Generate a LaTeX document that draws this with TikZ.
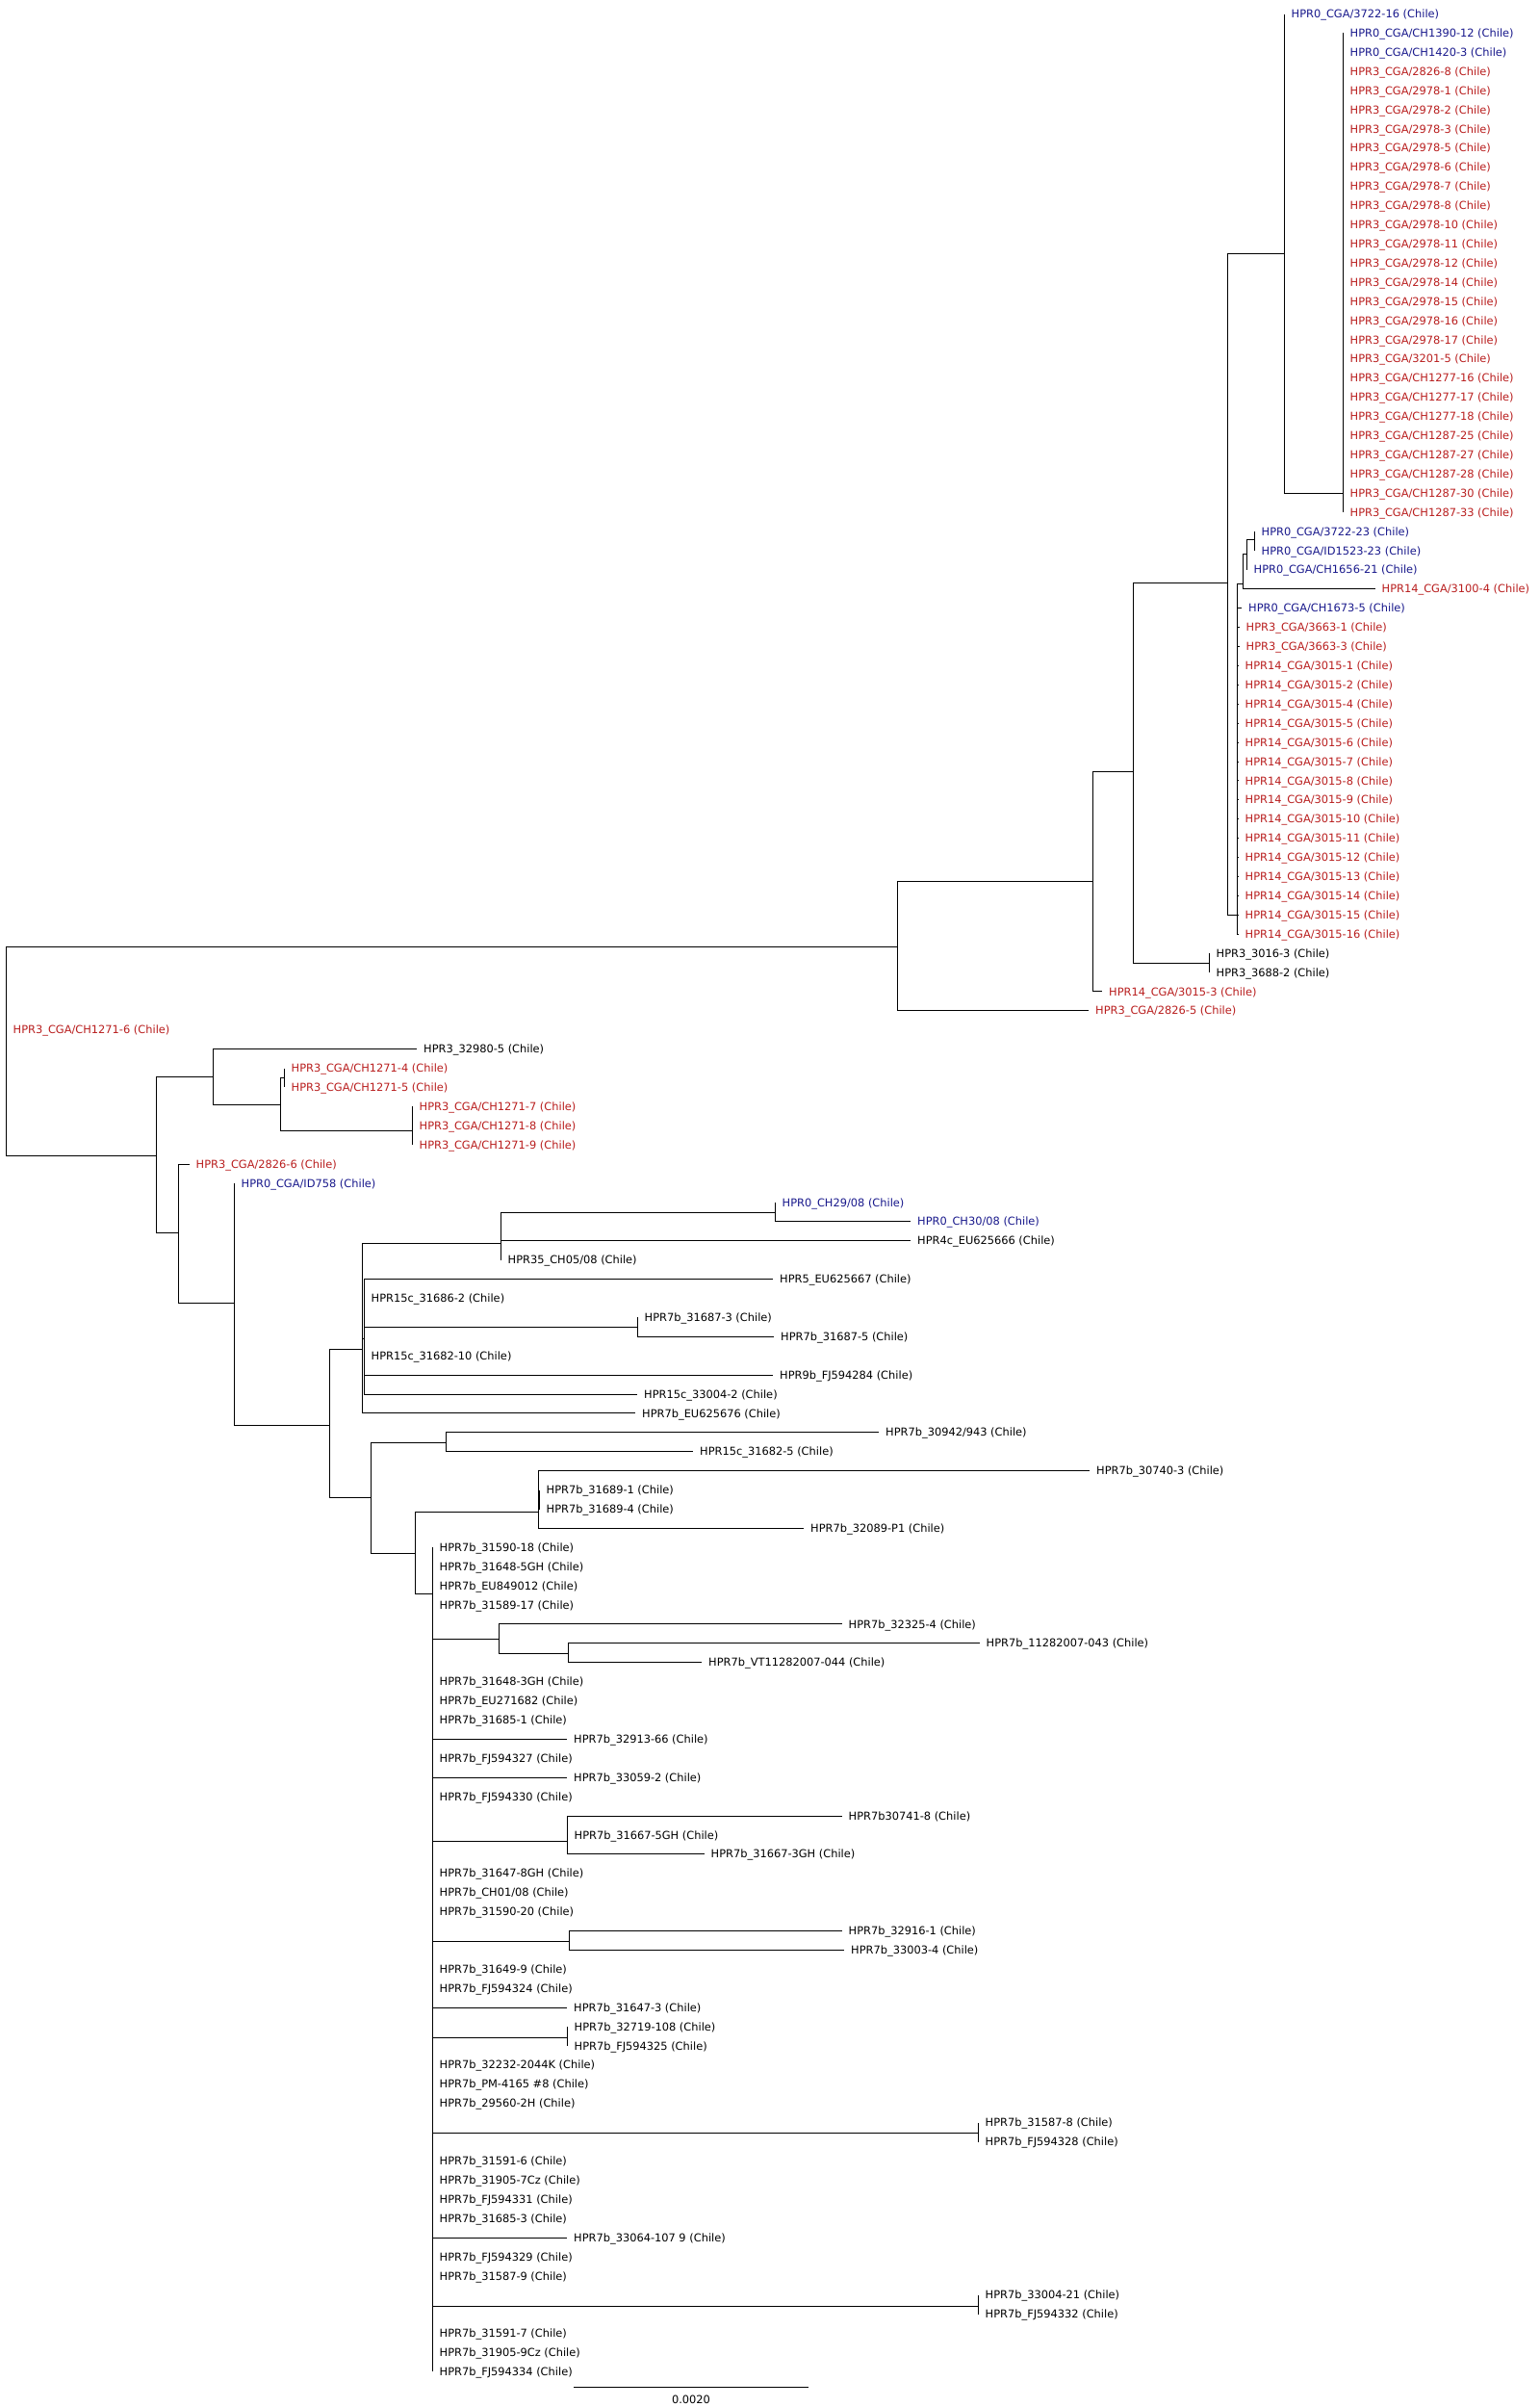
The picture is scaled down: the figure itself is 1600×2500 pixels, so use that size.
\documentclass[tikz,border=0pt]{standalone}
\usepackage{fontspec}
\setmainfont{DejaVu Sans}
\definecolor{hblue}{RGB}{25,25,140}
\definecolor{hred}{RGB}{185,30,30}
\tikzset{
  br/.style={line width=1pt, black},
  lab/.style={inner sep=0pt, anchor=base west, font=\fontsize{11.4}{13}\selectfont},
  rd/.style={text=hred}, bl/.style={text=hblue}, bk/.style={text=black}
}
% #1 row, #2 parent, #3 tip x, #4 colour style, #5 text
\newcommand\lf[5]{%
  \coordinate (l#1) at (#3,{14.5+19.91*(#1-1)});
  \draw[br] (#2) |- (l#1);
  \node[lab,#4] (t#1) at ([xshift=7pt,yshift=-4.1pt]l#1) {#5};}
\begin{document}
\begin{tikzpicture}[x=1pt,y=-1pt]
\fill[white] (0,0) rectangle (1600,2500);
\useasboundingbox (0,0) rectangle (1600,2500);
% ---------- internal nodes
\coordinate (R)  at (6.5,1070);
\coordinate (N1) at (932.5,983.5);
\coordinate (N2) at (1135.5,915.5);
\coordinate (N3) at (1177.5,801.5);
\coordinate (N4) at (1275.5,605.5);
\coordinate (N5) at (1334.5,263.5);
\coordinate (N7) at (1395.5,512.5);
\coordinate (N6) at (1285.5,950.5);
\coordinate (S1) at (1291.5,606.5);
\coordinate (S2) at (1295.5,575.5);
\coordinate (S3) at (1303.5,560.5);
\coordinate (C1) at (1256.5,1000.5);
\coordinate (M1) at (162.5,1200.5);
\coordinate (M2) at (221.5,1118.5);
\coordinate (M3) at (291.5,1147.5);
\coordinate (M4) at (295.5,1119.5);
\coordinate (M5) at (428.5,1174.5);
\coordinate (M6) at (185.5,1280.5);
\coordinate (M7) at (243.5,1353.5);
\coordinate (M8) at (342.5,1480.5);
\coordinate (M9) at (376.5,1401.5);
\coordinate (M9b) at (378.5,1390.5);
\coordinate (M11) at (520.5,1291.5);
\coordinate (M12) at (662.5,1378.5);
\coordinate (M13) at (805.5,1259.5);
\coordinate (M10) at (385.5,1555.5);
\coordinate (M14) at (463.5,1498.5);
\coordinate (M15) at (431.5,1613.5);
\coordinate (M16) at (559.5,1570.5);
\coordinate (M16b) at (560.5,1557.5);
\coordinate (P)  at (449.5,1655.5);
\coordinate (M17) at (518.5,1702.5);
\coordinate (M18) at (590.5,1717.5);
\coordinate (M19) at (589.5,1912.5);
\coordinate (M20) at (591.5,2016.5);
\coordinate (M21) at (589.5,2116.5);
\coordinate (M22) at (1016.5,2215.5);
\coordinate (M23) at (1016.5,2395.5);
% ---------- internal edges
\draw[br] (R) |- (N1);
\draw[br] (R) |- (M1);
\draw[br] (N1) |- (N2);
\draw[br] (N2) |- (N3);
\draw[br] (N3) |- (N4);
\draw[br] (N3) |- (C1);
\draw[br] (N4) |- (N5);
\draw[br] (N4) |- (N6);
\draw[br] (N5) |- (N7);
\draw[br] (N6) |- (S1);
\draw[br] (S1) |- (S2);
\draw[br] (S2) |- (S3);
\draw[br] (M1) |- (M2);
\draw[br] (M1) |- (M6);
\draw[br] (M2) |- (M3);
\draw[br] (M3) |- (M4);
\draw[br] (M3) |- (M5);
\draw[br] (M6) |- (M7);
\draw[br] (M7) |- (M8);
\draw[br] (M8) |- (M9);
\draw[br] (M8) |- (M10);
\draw[br] (M9) |- (M11);
\draw[br] (M9) |- (M9b);
\draw[br] (M9b) |- (M12);
\draw[br] (M11) |- (M13);
\draw[br] (M10) |- (M14);
\draw[br] (M10) |- (M15);
\draw[br] (M15) |- (M16);
\draw[br] (M15) |- (P);
\draw[br] (M16) |- (M16b);
\draw[br] (P) |- (M17);
\draw[br] (M17) |- (M18);
\draw[br] (P) |- (M19);
\draw[br] (P) |- (M20);
\draw[br] (P) |- (M21);
\draw[br] (P) |- (M22);
\draw[br] (P) |- (M23);
% ---------- leaves: upper clade
\lf{1}{N5}{1334.5}{bl}{HPR0\_CGA/3722-16 (Chile)}
\lf{2}{N7}{1395.5}{bl}{HPR0\_CGA/CH1390-12 (Chile)}
\lf{3}{N7}{1395.5}{bl}{HPR0\_CGA/CH1420-3 (Chile)}
\foreach \r/\s in {4/2826-8,5/2978-1,6/2978-2,7/2978-3,8/2978-5,9/2978-6,10/2978-7,11/2978-8,
  12/2978-10,13/2978-11,14/2978-12,15/2978-14,16/2978-15,17/2978-16,18/2978-17,19/3201-5,
  20/CH1277-16,21/CH1277-17,22/CH1277-18,23/CH1287-25,24/CH1287-27,25/CH1287-28,26/CH1287-30,27/CH1287-33}
  {\lf{\r}{N7}{1395.5}{rd}{HPR3\_CGA/\s{} (Chile)}}
\lf{28}{S3}{1303.5}{bl}{HPR0\_CGA/3722-23 (Chile)}
\lf{29}{S3}{1303.5}{bl}{HPR0\_CGA/ID1523-23 (Chile)}
\lf{30}{S2}{1295.5}{bl}{HPR0\_CGA/CH1656-21 (Chile)}
\lf{31}{S1}{1428.5}{rd}{HPR14\_CGA/3100-4 (Chile)}
\lf{32}{N6}{1290}{bl}{HPR0\_CGA/CH1673-5 (Chile)}
\lf{33}{N6}{1287.5}{rd}{HPR3\_CGA/3663-1 (Chile)}
\lf{34}{N6}{1287.5}{rd}{HPR3\_CGA/3663-3 (Chile)}
\foreach \r/\s in {35/1,36/2,37/4,38/5,39/6,40/7,41/8,42/9,43/10,44/11,45/12,46/13,47/14,48/15,49/16}
  {\lf{\r}{N6}{1286.5}{rd}{HPR14\_CGA/3015-\s{} (Chile)}}
\lf{50}{C1}{1256.5}{bk}{HPR3\_3016-3 (Chile)}
\lf{51}{C1}{1256.5}{bk}{HPR3\_3688-2 (Chile)}
\lf{52}{N2}{1145}{rd}{HPR14\_CGA/3015-3 (Chile)}
\lf{53}{N1}{1131}{rd}{HPR3\_CGA/2826-5 (Chile)}
\lf{54}{R}{6.5}{rd}{HPR3\_CGA/CH1271-6 (Chile)}
% ---------- lower clade
\lf{55}{M2}{433}{bk}{HPR3\_32980-5 (Chile)}
\lf{56}{M4}{295.5}{rd}{HPR3\_CGA/CH1271-4 (Chile)}
\lf{57}{M4}{295.5}{rd}{HPR3\_CGA/CH1271-5 (Chile)}
\lf{58}{M5}{428.5}{rd}{HPR3\_CGA/CH1271-7 (Chile)}
\lf{59}{M5}{428.5}{rd}{HPR3\_CGA/CH1271-8 (Chile)}
\lf{60}{M5}{428.5}{rd}{HPR3\_CGA/CH1271-9 (Chile)}
\lf{61}{M6}{196.5}{rd}{HPR3\_CGA/2826-6 (Chile)}
\lf{62}{M7}{243.5}{bl}{HPR0\_CGA/ID758 (Chile)}
\lf{63}{M13}{805.5}{bl}{HPR0\_CH29/08 (Chile)}
\lf{64}{M13}{946}{bl}{HPR0\_CH30/08 (Chile)}
\lf{65}{M11}{946}{bk}{HPR4c\_EU625666 (Chile)}
\lf{66}{M11}{520.5}{bk}{HPR35\_CH05/08 (Chile)}
\lf{67}{M9b}{803}{bk}{HPR5\_EU625667 (Chile)}
\lf{68}{M9b}{378.5}{bk}{HPR15c\_31686-2 (Chile)}
\lf{69}{M12}{662.5}{bk}{HPR7b\_31687-3 (Chile)}
\lf{70}{M12}{804}{bk}{HPR7b\_31687-5 (Chile)}
\lf{71}{M9b}{378.5}{bk}{HPR15c\_31682-10 (Chile)}
\lf{72}{M9b}{803}{bk}{HPR9b\_FJ594284 (Chile)}
\lf{73}{M9b}{662}{bk}{HPR15c\_33004-2 (Chile)}
\lf{74}{M9}{660}{bk}{HPR7b\_EU625676 (Chile)}
\lf{75}{M14}{913}{bk}{HPR7b\_30942/943 (Chile)}
\lf{76}{M14}{720}{bk}{HPR15c\_31682-5 (Chile)}
\lf{77}{M16}{1132}{bk}{HPR7b\_30740-3 (Chile)}
\lf{78}{M16b}{560.5}{bk}{HPR7b\_31689-1 (Chile)}
\lf{79}{M16b}{560.5}{bk}{HPR7b\_31689-4 (Chile)}
\lf{80}{M16}{835}{bk}{HPR7b\_32089-P1 (Chile)}
\lf{81}{P}{449.5}{bk}{HPR7b\_31590-18 (Chile)}
\lf{82}{P}{449.5}{bk}{HPR7b\_31648-5GH (Chile)}
\lf{83}{P}{449.5}{bk}{HPR7b\_EU849012 (Chile)}
\lf{84}{P}{449.5}{bk}{HPR7b\_31589-17 (Chile)}
\lf{85}{M17}{874.5}{bk}{HPR7b\_32325-4 (Chile)}
\lf{86}{M18}{1017.5}{bk}{HPR7b\_11282007-043 (Chile)}
\lf{87}{M18}{729}{bk}{HPR7b\_VT11282007-044 (Chile)}
\lf{88}{P}{449.5}{bk}{HPR7b\_31648-3GH (Chile)}
\lf{89}{P}{449.5}{bk}{HPR7b\_EU271682 (Chile)}
\lf{90}{P}{449.5}{bk}{HPR7b\_31685-1 (Chile)}
\lf{91}{P}{589}{bk}{HPR7b\_32913-66 (Chile)}
\lf{92}{P}{449.5}{bk}{HPR7b\_FJ594327 (Chile)}
\lf{93}{P}{589}{bk}{HPR7b\_33059-2 (Chile)}
\lf{94}{P}{449.5}{bk}{HPR7b\_FJ594330 (Chile)}
\lf{95}{M19}{874.5}{bk}{HPR7b30741-8 (Chile)}
\lf{96}{M19}{589.5}{bk}{HPR7b\_31667-5GH (Chile)}
\lf{97}{M19}{731.5}{bk}{HPR7b\_31667-3GH (Chile)}
\lf{98}{P}{449.5}{bk}{HPR7b\_31647-8GH (Chile)}
\lf{99}{P}{449.5}{bk}{HPR7b\_CH01/08 (Chile)}
\lf{100}{P}{449.5}{bk}{HPR7b\_31590-20 (Chile)}
\lf{101}{M20}{874.5}{bk}{HPR7b\_32916-1 (Chile)}
\lf{102}{M20}{877}{bk}{HPR7b\_33003-4 (Chile)}
\lf{103}{P}{449.5}{bk}{HPR7b\_31649-9 (Chile)}
\lf{104}{P}{449.5}{bk}{HPR7b\_FJ594324 (Chile)}
\lf{105}{P}{589}{bk}{HPR7b\_31647-3 (Chile)}
\lf{106}{M21}{589.5}{bk}{HPR7b\_32719-108 (Chile)}
\lf{107}{M21}{589.5}{bk}{HPR7b\_FJ594325 (Chile)}
\lf{108}{P}{449.5}{bk}{HPR7b\_32232-2044K (Chile)}
\lf{109}{P}{449.5}{bk}{HPR7b\_PM-4165 \#8 (Chile)}
\lf{110}{P}{449.5}{bk}{HPR7b\_29560-2H (Chile)}
\lf{111}{M22}{1016.5}{bk}{HPR7b\_31587-8 (Chile)}
\lf{112}{M22}{1016.5}{bk}{HPR7b\_FJ594328 (Chile)}
\lf{113}{P}{449.5}{bk}{HPR7b\_31591-6 (Chile)}
\lf{114}{P}{449.5}{bk}{HPR7b\_31905-7Cz (Chile)}
\lf{115}{P}{449.5}{bk}{HPR7b\_FJ594331 (Chile)}
\lf{116}{P}{449.5}{bk}{HPR7b\_31685-3 (Chile)}
\lf{117}{P}{589}{bk}{HPR7b\_33064-107 9 (Chile)}
\lf{118}{P}{449.5}{bk}{HPR7b\_FJ594329 (Chile)}
\lf{119}{P}{449.5}{bk}{HPR7b\_31587-9 (Chile)}
\lf{120}{M23}{1016.5}{bk}{HPR7b\_33004-21 (Chile)}
\lf{121}{M23}{1016.5}{bk}{HPR7b\_FJ594332 (Chile)}
\lf{122}{P}{449.5}{bk}{HPR7b\_31591-7 (Chile)}
\lf{123}{P}{449.5}{bk}{HPR7b\_31905-9Cz (Chile)}
\lf{124}{P}{449.5}{bk}{HPR7b\_FJ594334 (Chile)}
% ---------- scale bar
\coordinate (sbL) at (596,2479.5);
\coordinate (sbR) at (840,2479.5);
\draw[br] (sbL) -- (sbR);
\node[inner sep=0pt, font=\fontsize{11.4}{13}\selectfont] (sbt) at (718,2492.5) {0.0020};
\end{tikzpicture}
\end{document}
